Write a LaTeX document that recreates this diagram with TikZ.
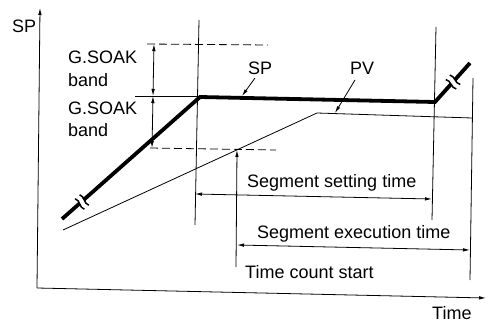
\documentclass[tikz,border=0pt]{standalone}
\usepackage{fontspec}
\setmainfont{Liberation Sans}
\usetikzlibrary{arrows.meta}
\begin{document}
\begin{tikzpicture}[x=1pt,y=-1pt,
  thinline/.style={line width=0.8pt},
  thicksp/.style={line width=3.8pt, line join=miter},
  dashline/.style={line width=0.8pt, dash pattern=on 8pt off 4pt},
  tip/.style={-{Latex[length=7pt,width=3.5pt]}},
  dtip/.style={{Latex[length=7pt,width=3.5pt]}-{Latex[length=7pt,width=3.5pt]}},
  lbl/.style={inner sep=0pt, anchor=base west, font=\fontsize{18}{21}\selectfont},
  brk/.style={line width=1.5pt},
]
\useasboundingbox (0,0) rectangle (489,323);
% axes
\coordinate (o) at (37,288);
\coordinate (ytop) at (40,8);
\coordinate (xend) at (486,298);
\draw[thinline, tip] (o) -- (ytop);
\draw[thinline, tip] (o) -- (xend);
% vertical reference lines
\coordinate (v1t) at (199,20);  \coordinate (v1b) at (195,225);
\coordinate (v2t) at (436,27);  \coordinate (v2b) at (432,220);
\coordinate (v3t) at (473,78);  \coordinate (v3b) at (470,280);
\coordinate (v4t) at (237,150); \coordinate (v4b) at (236,267);
\draw[thinline] (v1t) -- (v1b);
\draw[thinline] (v2t) -- (v2b);
\draw[thinline] (v3t) -- (v3b);
\draw[thinline, tip] (v4b) -- (v4t);
% dashed band limits
\coordinate (dt0) at (147,44);  \coordinate (dt1) at (268,45);
\coordinate (db0) at (150,148); \coordinate (db1) at (276,150);
\draw[dashline] (dt0) -- (dt1);
\draw[dashline] (db0) -- (db1);
% SP level reference
\coordinate (sr0) at (135,96);
\coordinate (sr1) at (199,96);
\draw[thinline] (sr0) -- (sr1);
% band dimension arrows
\coordinate (a0) at (154,44);
\coordinate (a1) at (153,96);
\coordinate (a2) at (152,148);
\draw[thinline, dtip] (a0) -- (a1);
\draw[thinline, dtip] (a1) -- (a2);
% PV
\coordinate (pv0) at (63,230);
\coordinate (pv1) at (317,113);
\coordinate (pv2) at (472,118);
\draw[thinline] (pv0) -- (pv1) -- (pv2);
% SP
\coordinate (sp0) at (62,219);
\coordinate (sp1) at (200,97);
\coordinate (sp2) at (435,102);
\coordinate (sp3) at (470,63);
\draw[thicksp] (sp0) -- (sp1) -- (sp2) -- (sp3);
% break marks
\begin{scope}[shift={(82,202)}, rotate=41.5, x=1pt, y=1pt]
  \fill[white] (-2.5,-4) rectangle (2.5,4);
  \draw[brk] (-3,-7) .. controls (-6,-2) and (0,2) .. (-3,7);
  \draw[brk] (3,-7) .. controls (0,-2) and (6,2) .. (3,7);
\end{scope}
\begin{scope}[shift={(453,82)}, rotate=48, x=1pt, y=1pt]
  \fill[white] (-2.5,-4) rectangle (2.5,4);
  \draw[brk] (-3,-7) .. controls (-6,-2) and (0,2) .. (-3,7);
  \draw[brk] (3,-7) .. controls (0,-2) and (6,2) .. (3,7);
\end{scope}
% time dimension arrows
\coordinate (s0) at (195,194); \coordinate (s1) at (432,199);
\coordinate (e0) at (237,245); \coordinate (e1) at (470,250);
\draw[thinline, dtip] (s0) -- (s1);
\draw[thinline, dtip] (e0) -- (e1);
% leaders
\coordinate (lsp0) at (255,78); \coordinate (lsp1) at (242,96);
\coordinate (lpv0) at (355,80); \coordinate (lpv1) at (335,113);
\draw[thinline, tip] (lsp0) -- (lsp1);
\draw[thinline, tip] (lpv0) -- (lpv1);
% labels
\node[lbl] (yl) at (12,33) {SP};
\node[lbl] (g1) at (68,64) {G.SOAK};
\node[lbl] (b1) at (68,87) {band};
\node[lbl] (g2) at (68,115) {G.SOAK};
\node[lbl] (b2) at (68,137) {band};
\node[lbl] (spl) at (248,75) {SP};
\node[lbl] (pvl) at (350,75) {PV};
\node[lbl] (sst) at (247,187) {Segment setting time};
\node[lbl] (set) at (257,238) {Segment execution time};
\node[lbl] (tcs) at (245,278) {Time count start};
\node[lbl] (tl) at (432,319) {Time};
\end{tikzpicture}
\end{document}
